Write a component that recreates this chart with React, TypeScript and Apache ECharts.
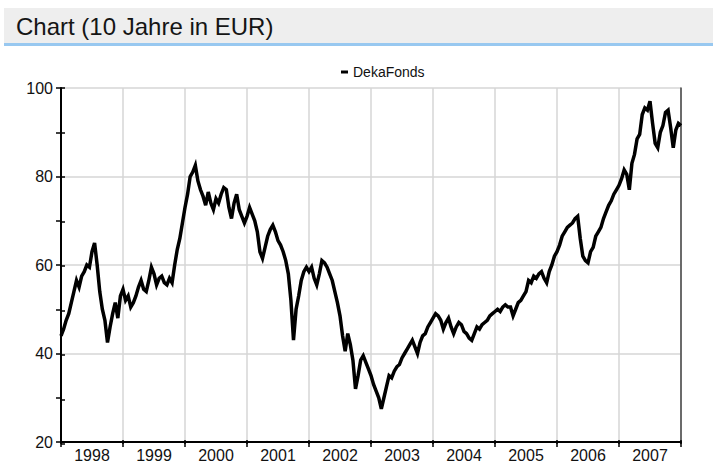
import React, { useEffect, useRef } from "react";
import * as echarts from "echarts";

// Title and series
const chartTitle = "Chart (10 Jahre in EUR)";
const seriesName = "DekaFonds";

// X-axis categories (year bands)
const years = ["1998", "1999", "2000", "2001", "2002", "2003", "2004", "2005", "2006", "2007"];

// Fund price, semi-monthly readings (24 per year)
const v1998 = [44, 45.5, 47.5, 49, 51.5, 54, 56.5, 55, 57.5, 58.5, 60, 59.5, 63, 65, 60, 54, 50, 47.5, 42.5, 46, 49, 51.5, 48, 53];
const v1999 = [54.5, 52, 53, 50.5, 51.5, 53, 55, 56.5, 54.5, 54, 56.5, 59.5, 58, 55.5, 57, 57.5, 56, 55.5, 57, 56, 60, 63.5, 66, 69.5];
const v2000 = [73, 76, 80, 81, 82.5, 79, 77, 75.5, 73.5, 76.5, 74, 72.5, 75, 74, 76, 77.5, 77, 73, 70.5, 74, 76, 72.5, 71, 69.5];
const v2001 = [71, 73, 71.5, 70, 67.5, 63, 61.5, 64, 66.5, 68, 69, 67.5, 65.5, 64.5, 63, 61, 58, 52, 43, 50, 53, 56.5, 58.5, 59.5];
const v2002 = [58.5, 59.5, 57, 55.5, 58, 61, 60.5, 59.5, 58, 56.5, 54, 51.5, 48.5, 44, 40.5, 44.5, 42, 38.5, 32, 35, 38.5, 39.5, 38, 36.5];
const v2003 = [35, 33, 31.5, 30, 27.5, 30, 32.5, 35, 34.5, 36, 37, 37.5, 39, 40, 41, 42, 43, 41.5, 40, 42.5, 44, 44.5, 46, 47];
const v2004 = [48, 49, 48.5, 47.5, 45.5, 47, 48, 46, 44.5, 46, 47, 46.5, 45, 44.5, 43.5, 43, 44.5, 46, 45.5, 46.5, 47, 47.5, 48.5, 49];
const v2005 = [49.5, 50, 49.5, 50.5, 51, 50.5, 50.5, 48.5, 50, 51.5, 52, 53, 54, 56.5, 56, 57.5, 57, 58, 58.5, 57, 56, 58.5, 60, 62];
const v2006 = [63, 64.5, 66.5, 67.5, 68.5, 69, 69.5, 70.5, 71, 66, 62, 61, 60.5, 63, 64, 66.5, 67.5, 68.5, 70.5, 72, 73.5, 74.5, 76, 77];
const v2007 = [78, 79.5, 81.5, 80.5, 77, 83, 85, 88.5, 89.5, 94, 95.5, 95, 97, 92, 87.5, 86.5, 90, 91.5, 94.5, 95, 91, 86.5, 90.5, 92];
const vLast = 91.5;

const FONT = "'Liberation Sans', Arial, Helvetica, sans-serif";

export default function App() {
  const ref = useRef<HTMLDivElement>(null);

  useEffect(() => {
    if (!ref.current) return;
    const chart = echarts.init(ref.current, null, { renderer: "svg" });

    const yearly = [v1998, v1999, v2000, v2001, v2002, v2003, v2004, v2005, v2006, v2007];
    const data: [number, number][] = [];
    yearly.forEach((arr, yi) => {
      arr.forEach((v, i) => data.push([1998 + yi + i / 24, v]));
    });
    data.push([2008, vLast]);

    const gridRect = { left: 61, right: 32, top: 88, bottom: 19 };
    const black = "#000";
    const gridColor = "#d6d6d6";

    chart.setOption({
      animation: false,
      backgroundColor: "#ffffff",
      graphic: [
        { type: "rect", shape: { x: 4, y: 8, width: 709, height: 35 }, style: { fill: "#eeeeee" } },
        { type: "rect", shape: { x: 4, y: 43, width: 709, height: 3 }, style: { fill: "#98c8f0" } },
        {
          type: "text",
          x: 16,
          y: 26,
          style: { text: chartTitle, fontSize: 24, fontFamily: FONT, fill: "#151515", verticalAlign: "middle" },
        },
      ],
      legend: {
        data: [seriesName],
        top: 60,
        left: 336,
        icon: "rect",
        itemWidth: 7,
        itemHeight: 3,
        textStyle: { fontSize: 14, color: "#111", fontFamily: FONT },
      },
      grid: [
        { ...gridRect },
        { ...gridRect },
      ],
      xAxis: [
        {
          gridIndex: 0,
          type: "category",
          data: years,
          boundaryGap: true,
          position: "bottom",
          axisLine: { show: true, lineStyle: { color: black, width: 2 } },
          axisTick: { show: true, alignWithLabel: false, interval: 0, length: 5, lineStyle: { color: black, width: 1.5 } },
          axisLabel: { interval: 0, fontSize: 16, color: "#111", fontFamily: FONT, margin: 5 },
          splitLine: { show: true, interval: 0, lineStyle: { color: gridColor, width: 1.5 } },
        },
        {
          gridIndex: 0,
          type: "value",
          min: 1998,
          max: 2008,
          show: false,
        },
        {
          gridIndex: 1,
          type: "category",
          data: years,
          boundaryGap: true,
          position: "bottom",
          axisLine: { show: false },
          axisTick: { show: true, inside: true, alignWithLabel: false, interval: 0, length: 4, lineStyle: { color: black, width: 1.5 } },
          axisLabel: { show: false },
          splitLine: { show: false },
        },
      ],
      yAxis: [
        {
          gridIndex: 0,
          type: "value",
          min: 20,
          max: 100,
          interval: 20,
          position: "left",
          axisLine: { show: true, lineStyle: { color: black, width: 2 } },
          axisTick: { show: true, length: 5, lineStyle: { color: black, width: 1.5 } },
          minorTick: { show: true, splitNumber: 2, length: 5, lineStyle: { color: black, width: 1.5 } },
          axisLabel: { fontSize: 16, color: "#111", fontFamily: FONT, margin: 8 },
          splitLine: { show: true, lineStyle: { color: gridColor, width: 1.5 } },
        },
        {
          gridIndex: 0,
          type: "value",
          min: 20,
          max: 100,
          interval: 20,
          position: "right",
          axisLine: { show: true, lineStyle: { color: "#444", width: 1.5 } },
          axisTick: { show: false },
          axisLabel: { show: false },
          splitLine: { show: false },
        },
        {
          gridIndex: 1,
          type: "value",
          min: 20,
          max: 100,
          interval: 20,
          position: "left",
          axisLine: { show: false },
          axisTick: { show: true, inside: true, length: 4, lineStyle: { color: black, width: 1.5 } },
          minorTick: { show: true, splitNumber: 2, length: 4, lineStyle: { color: black, width: 1.5 } },
          axisLabel: { show: false },
          splitLine: { show: false },
        },
      ],
      series: [
        {
          name: seriesName,
          type: "line",
          xAxisIndex: 1,
          yAxisIndex: 0,
          data,
          showSymbol: false,
          symbol: "none",
          lineStyle: { color: black, width: 3.5, join: "miter" },
          itemStyle: { color: black },
          z: 3,
        },
      ],
    });

    return () => chart.dispose();
  }, []);

  return (
    <div
      ref={ref}
      style={{ position: "fixed", left: 0, top: 0, width: 713, height: 463, background: "#fff" }}
    />
  );
}
